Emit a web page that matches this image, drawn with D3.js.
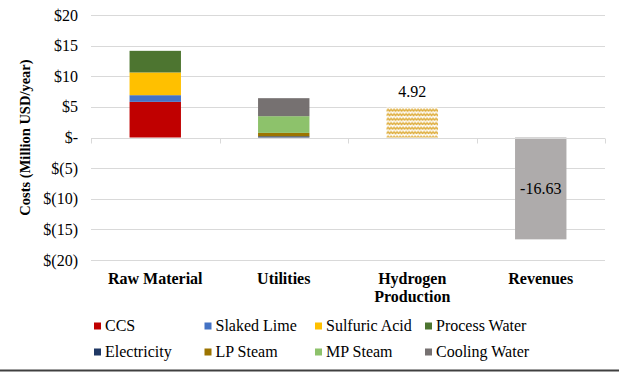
<!DOCTYPE html>
<html>
<head>
<meta charset="utf-8">
<script src="https://cdn.jsdelivr.net/npm/d3@7"></script>
<style>
  body { margin: 0; background: #fff; }
  svg { display: block; }
</style>
</head>
<body>
<svg id="chart" width="619" height="372"></svg>
<script>
// categories along the x axis
const categories = ["Raw Material", "Utilities", "Hydrogen Production", "Revenues"];

// stacked cost items (Million USD/year)
const rawMaterialItems = ["CCS", "Slaked Lime", "Sulfuric Acid", "Process Water"];
const rawMaterialValues = [5.82, 1.09, 3.71, 3.53];

const utilityItems = ["Electricity", "LP Steam", "MP Steam", "Cooling Water"];
const utilityValues = [0.2, 0.55, 2.73, 2.94];

const hydrogenValue = 4.92;
const revenueValue = -16.63;

// y axis ticks
const yTicks = [20, 15, 10, 5, 0, -5, -10, -15, -20];

// legend order (two rows)
const legendItems = ["CCS", "Slaked Lime", "Sulfuric Acid", "Process Water",
                     "Electricity", "LP Steam", "MP Steam", "Cooling Water"];

const colours = {
  "CCS": "#C00000",
  "Slaked Lime": "#4472C4",
  "Sulfuric Acid": "#FFC000",
  "Process Water": "#4D7530",
  "Electricity": "#203864",
  "LP Steam": "#9C7400",
  "MP Steam": "#8DC26B",
  "Cooling Water": "#767171"
};

const FONT = "'Liberation Serif', 'Times New Roman', serif";

const svg = d3.select("#chart");
const plotLeft = 91, plotRight = 605, plotTop = 15, plotBottom = 260;

const x = d3.scaleBand().domain(categories).range([plotLeft, plotRight]).paddingInner(0.6).paddingOuter(0.3);
const y = d3.scaleLinear().domain([-20, 20]).range([plotBottom, plotTop]);

// helper so every label gets the same font
function label(sel, size, bold) {
    return sel.style("font-family", FONT)
        .style("font-size", size + "px")
        .style("font-weight", bold ? "bold" : "normal")
        .attr("fill", "#000");
}

// zigzag pattern for the hydrogen bar
const defs = svg.append("defs");
const pat = defs.append("pattern")
    .attr("id", "zigzag")
    .attr("patternUnits", "userSpaceOnUse")
    .attr("x", x("Hydrogen Production")).attr("y", 0)
    .attr("width", 6).attr("height", 4.5);
pat.append("rect").attr("width", 6).attr("height", 4.5).attr("fill", "#fff");
pat.append("polyline")
    .attr("points", "0,3.5 1.5,1 3,3.5 4.5,1 6,3.5")
    .attr("fill", "none")
    .attr("stroke", "#D9A01C")
    .attr("stroke-width", 1);

// gridlines
svg.append("g").selectAll("line")
    .data(yTicks.filter(d => d !== 0))
    .join("line")
    .attr("x1", plotLeft).attr("x2", plotRight)
    .attr("y1", d => Math.round(y(d)) + 0.5).attr("y2", d => Math.round(y(d)) + 0.5)
    .attr("stroke", "#D9D9D9").attr("stroke-width", 1);

// y tick labels
label(svg.append("g").selectAll("text")
    .data(yTicks)
    .join("text")
    .attr("x", 78).attr("y", d => y(d))
    .attr("dy", "0.35em")
    .attr("text-anchor", "end"), 16)
    .text(d => d === 0 ? "$-" : d > 0 ? "$" + d : "$(" + (-d) + ")");

// axis title
label(svg.append("text")
    .attr("transform", "translate(30," + y(0) + ") rotate(-90)")
    .attr("text-anchor", "middle"), 14.5, true)
    .text("Costs (Million USD/year)");

// stacked bars
function drawStack(cat, items, values) {
    let acc = 0;
    const segs = items.map((k, i) => {
        const s = { key: k, y0: acc, y1: acc + values[i] };
        acc += values[i];
        return s;
    });
    svg.append("g").selectAll("rect")
        .data(segs)
        .join("rect")
        .attr("x", x(cat)).attr("width", x.bandwidth())
        .attr("y", d => y(d.y1)).attr("height", d => y(d.y0) - y(d.y1))
        .attr("fill", d => colours[d.key]);
}
drawStack("Raw Material", rawMaterialItems, rawMaterialValues);
drawStack("Utilities", utilityItems, utilityValues);

// hydrogen production bar
svg.append("rect")
    .attr("x", x("Hydrogen Production")).attr("width", x.bandwidth())
    .attr("y", y(hydrogenValue)).attr("height", y(0) - y(hydrogenValue))
    .attr("fill", "url(#zigzag)");
label(svg.append("text")
    .attr("x", x("Hydrogen Production") + x.bandwidth() / 2)
    .attr("y", y(hydrogenValue) - 10)
    .attr("text-anchor", "middle"), 16)
    .text(hydrogenValue.toFixed(2));

// revenues bar
svg.append("rect")
    .attr("x", x("Revenues")).attr("width", x.bandwidth())
    .attr("y", y(0)).attr("height", y(revenueValue) - y(0))
    .attr("fill", "#AEABAB");
label(svg.append("text")
    .attr("x", x("Revenues") + x.bandwidth() / 2)
    .attr("y", y(revenueValue / 2))
    .attr("dy", "0.35em")
    .attr("text-anchor", "middle"), 16)
    .text(revenueValue.toFixed(2));

// zero line with category tick marks
const zeroY = Math.round(y(0)) + 0.5;
const zero = svg.append("g").attr("stroke", "#D9D9D9").attr("stroke-width", 1);
zero.append("line").attr("x1", plotLeft).attr("x2", plotRight).attr("y1", zeroY).attr("y2", zeroY);
const boundaries = d3.range(categories.length + 1).map(i => plotLeft + i * (plotRight - plotLeft) / categories.length);
zero.selectAll("line.tick")
    .data(boundaries)
    .join("line")
    .attr("class", "tick")
    .attr("x1", d => Math.round(d) + 0.5).attr("x2", d => Math.round(d) + 0.5)
    .attr("y1", zeroY).attr("y2", zeroY + 5);

// category labels
const catLabels = svg.append("g");
categories.forEach(c => {
    const cx = x(c) + x.bandwidth() / 2;
    const t = label(catLabels.append("text")
        .attr("x", cx)
        .attr("y", 284)
        .attr("text-anchor", "middle"), 16, true);
    if (c === "Hydrogen Production") {
        t.append("tspan").attr("x", cx).text("Hydrogen");
        t.append("tspan").attr("x", cx).attr("dy", 18).text("Production");
    } else {
        t.text(c);
    }
});

// legend
const legendX = [94, 204.5, 315, 425];
const legendY = [326, 352];
const legend = svg.append("g");
legendItems.forEach((k, i) => {
    const lx = legendX[i % 4], ly = legendY[Math.floor(i / 4)];
    legend.append("rect")
        .attr("x", lx).attr("y", ly - 3.5)
        .attr("width", 7).attr("height", 7)
        .attr("fill", colours[k]);
    label(legend.append("text")
        .attr("x", lx + 11).attr("y", ly + 5), 16)
        .text(k);
});

// bottom frame line
svg.append("line")
    .attr("x1", 0).attr("x2", 619).attr("y1", 370.5).attr("y2", 370.5)
    .attr("stroke", "#404040").attr("stroke-width", 2);
</script>
</body>
</html>
